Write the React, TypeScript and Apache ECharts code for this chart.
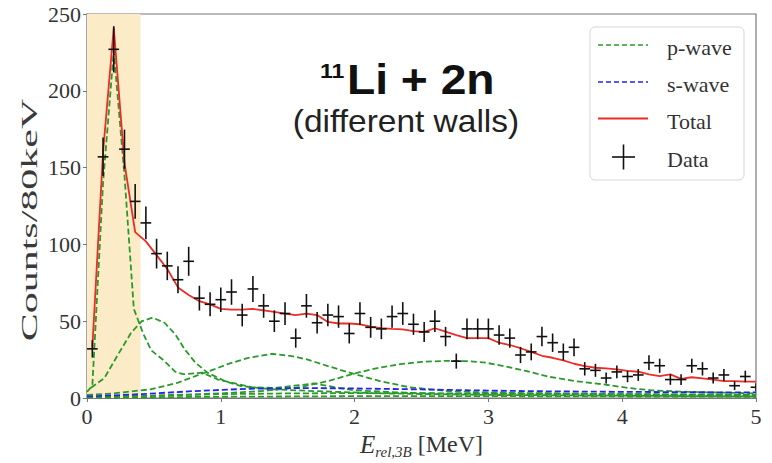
import React, { useEffect, useRef } from "react";
import * as echarts from "echarts";

// ---- data ----
const BIN_WIDTH = 0.08;
const FIRST_BIN = 0.04;
const COUNTS = [32, 157, 227, 162, 128, 114, 94, 86, 77, 89, 65, 61, 64, 69, 54, 71, 60, 50, 55, 39, 60, 49, 54, 53, 42, 55, 46, 45, 53, 55, 48, 43, 50, 40, 24, 45, 45, 45, 41, 39, 28, 30, 40, 36, 30, 33, 19, 18, 13, 17, 14, 15, 23, 21, 12, 12, 21, 19, 13, 15, 8, 14, 7];
const TOTAL = [33, 160, 241, 153, 108, 102, 93, 84, 72, 67, 63, 61, 58, 57.5, 57.5, 58, 57, 56, 55, 54, 55, 54, 49.5, 48.5, 48.5, 48, 46.5, 45.5, 45, 44.7, 43.6, 43, 45.4, 43.2, 41, 39, 39, 39, 36, 34.5, 32.4, 30, 27.5, 26.2, 24.5, 22.3, 20.8, 19.7, 19.3, 18.7, 17.6, 17.1, 15.4, 14.3, 15.4, 12.5, 13.5, 12.8, 12, 11, 11, 10.6, 10.6];

const P_WAVE_PEAK = [[0.0, 4], [0.04, 8], [0.12, 140], [0.2, 226], [0.28, 145], [0.35, 58], [0.42, 42], [0.48, 31], [0.58, 24], [0.66, 17], [0.72, 15.5], [0.86, 16.5], [0.98, 12], [1.08, 10], [1.23, 7], [1.4, 6.5], [1.55, 8], [1.7, 9.5], [1.85, 7], [2.0, 5], [2.5, 3], [3.0, 2.5], [4.0, 2], [5.0, 1.5]];
const P_WAVE_LOW = [[0.03, 6.7], [0.13, 13], [0.23, 28], [0.33, 42.5], [0.41, 50], [0.49, 52.3], [0.58, 49], [0.66, 41.4], [0.73, 31.7], [0.81, 23], [0.9, 16.5], [1.03, 11], [1.15, 7.8], [1.38, 5.7], [1.7, 4.5], [2.2, 3], [3.0, 2], [4.0, 1.5], [5.0, 1]];
const P_WAVE_MID = [[0.0, 2], [0.2, 3], [0.48, 5.7], [0.68, 10], [0.81, 14.3], [0.9, 17], [1.05, 22], [1.2, 26], [1.38, 28.8], [1.53, 27.3], [1.65, 25], [1.8, 20.8], [1.99, 15.8], [2.19, 11], [2.41, 7], [2.7, 4.5], [3.0, 3.5], [4.0, 2.5], [5.0, 2]];
const P_WAVE_HIGH = [[0.0, 0.5], [0.5, 1.5], [1.0, 3], [1.3, 4.5], [1.59, 7], [1.8, 11], [1.99, 15.8], [2.17, 19.5], [2.34, 22], [2.5, 23.5], [2.68, 24.2], [2.85, 24], [2.98, 23], [3.13, 20.5], [3.28, 17.6], [3.46, 13.7], [3.65, 11], [3.85, 9], [4.05, 6.5], [4.22, 5], [4.5, 4], [5.0, 3]];
const P_WAVE_BASE1 = [[0, 0.5], [0.5, 1.5], [1.0, 2.5], [1.5, 3], [2.0, 3.2], [3.0, 3], [4.0, 2.5], [5.0, 2.2]];
const P_WAVE_BASE2 = [[0, 0.2], [1.0, 0.8], [2.0, 1.2], [3.0, 1.2], [4.0, 1], [5.0, 0.8]];
const S_WAVE = [[0, 1], [0.4, 2.5], [0.8, 4.5], [1.2, 6], [1.6, 6.5], [2.0, 6.2], [2.5, 5.6], [3.0, 4.8], [3.5, 4.3], [4.0, 4], [4.5, 3.8], [5.0, 3.6]];

const X_TICKS = { min: 0, max: 5, interval: 1 };
const Y_TICKS = { min: 0, max: 250, interval: 50 };
const BAND = [0, 0.4];
const LEGEND_LABELS = ["p-wave", "s-wave", "Total", "Data"];

const GREEN = "#2a9a2a";
const BLUE = "#2424f0";
const RED = "#ec2c26";
const SERIF = "'Liberation Serif', 'Times New Roman', serif";
const SANS = "'Liberation Sans', Arial, sans-serif";

const dashed = (color: string) => ({ color, width: 1.8, type: [6, 3] as any });

export default function App() {
  const ref = useRef<HTMLDivElement>(null);
  useEffect(() => {
    if (!ref.current) return;
    const chart = echarts.init(ref.current, undefined, { renderer: "svg" });
    const dataPts = COUNTS.map((c, i) => [+(FIRST_BIN + BIN_WIDTH * i).toFixed(2), c]);
    const totalPts = TOTAL.map((t, i) => [+(FIRST_BIN + BIN_WIDTH * i).toFixed(2), t]);
    const curve = (name: string, data: number[][], color: string, z: number, extra: any = {}) => ({
      name,
      type: "line",
      data,
      showSymbol: false,
      symbol: "none",
      lineStyle: dashed(color),
      z,
      silent: true,
      ...extra,
    });
    const legendY = [45, 82, 118.5, 157];
    const lx0 = 598, lx1 = 648, tx = 667;
    chart.setOption({
      animation: false,
      backgroundColor: "#fff",
      grid: {
        left: 87, right: 16, top: 14, bottom: 65,
        outerBoundsMode: "none",
        containLabel: false,
        show: true, borderColor: "#777", borderWidth: 1.2, backgroundColor: "transparent",
      },
      xAxis: {
        type: "value",
        ...X_TICKS,
        axisLine: { show: true, lineStyle: { color: "#777", width: 1.2 } },
        axisTick: { show: true, inside: false, length: 4, lineStyle: { color: "#777" } },
        axisLabel: { fontSize: 22, fontFamily: SERIF, color: "#333", margin: 7 },
        splitLine: { show: false },
        name: "{e|E}{s|rel,3B}{n| [MeV]}",
        nameLocation: "middle",
        nameGap: 31,
        nameTextStyle: {
          rich: {
            e: { fontSize: 25, fontFamily: SERIF, fontStyle: "italic", color: "#333", lineHeight: 30, verticalAlign: "middle" },
            s: { fontSize: 15, fontFamily: SERIF, fontStyle: "italic", color: "#333", lineHeight: 30, verticalAlign: "bottom" },
            n: { fontSize: 24, fontFamily: SERIF, color: "#333", lineHeight: 30, verticalAlign: "middle" },
          },
        },
      },
      yAxis: {
        type: "value",
        ...Y_TICKS,
        axisLine: { show: true, lineStyle: { color: "#777", width: 1.2 } },
        axisTick: { show: true, inside: false, length: 4, lineStyle: { color: "#777" } },
        axisLabel: { fontSize: 22, fontFamily: SERIF, color: "#333", margin: 6 },
        splitLine: { show: false },
      },
      series: [
        curve("p-wave", P_WAVE_BASE2, GREEN, 2, {
          markArea: {
            silent: true,
            itemStyle: { color: "#fcebc7" },
            data: [[{ xAxis: BAND[0] }, { xAxis: BAND[1] }]],
          },
        }),
        curve("p-wave", P_WAVE_BASE1, GREEN, 3),
        curve("s-wave", S_WAVE, BLUE, 4),
        curve("p-wave", P_WAVE_HIGH, GREEN, 3),
        curve("p-wave", P_WAVE_MID, GREEN, 3),
        curve("p-wave", P_WAVE_LOW, GREEN, 3),
        curve("p-wave", P_WAVE_PEAK, GREEN, 3),
        {
          name: "Total",
          type: "line",
          data: totalPts,
          showSymbol: false,
          symbol: "none",
          lineStyle: { color: RED, width: 1.8 },
          z: 5,
          silent: true,
        },
        {
          name: "Data",
          type: "custom",
          data: dataPts,
          clip: true,
          z: 6,
          silent: true,
          encode: { x: 0, y: 1 },
          renderItem: (_params: any, api: any) => {
            const x = api.value(0);
            const y = api.value(1);
            const e = Math.sqrt(y);
            const top = api.coord([x, y + e]);
            const bot = api.coord([x, y - e]);
            const l = api.coord([x - BIN_WIDTH / 2, y]);
            const r = api.coord([x + BIN_WIDTH / 2, y]);
            const st = { stroke: "#111", lineWidth: 1.6 };
            return {
              type: "group",
              children: [
                { type: "line", shape: { x1: top[0], y1: top[1], x2: bot[0], y2: bot[1] }, style: st },
                { type: "line", shape: { x1: l[0], y1: l[1], x2: r[0], y2: r[1] }, style: st },
              ],
            };
          },
        },
      ],
      graphic: [
        // y axis label
        {
          type: "text",
          x: 29,
          y: 220,
          rotation: Math.PI / 2,
          scaleX: 1.75,
          style: { text: "Counts/80keV", fontSize: 24, fontFamily: SERIF, fill: "#3a3a3a", align: "center", verticalAlign: "middle" },
        },
        // title
        {
          type: "text",
          x: 320,
          y: 71,
          scaleX: 1.1,
          style: { text: "11", fontSize: 21, fontWeight: "bold", fontFamily: SANS, fill: "#111", align: "left", verticalAlign: "middle" },
        },
        {
          type: "text",
          x: 347,
          y: 79,
          scaleX: 1.1,
          style: { text: "Li + 2n", fontSize: 42, fontWeight: "bold", fontFamily: SANS, fill: "#111", align: "left", verticalAlign: "middle" },
        },
        {
          type: "text",
          x: 406,
          y: 121,
          scaleX: 1.08,
          style: { text: "(different walls)", fontSize: 31, fontFamily: SANS, fill: "#222", align: "center", verticalAlign: "middle" },
        },
        // legend
        {
          type: "rect",
          shape: { x: 590, y: 27, width: 154, height: 153, r: 5 },
          style: { fill: "rgba(255,255,255,0.9)", stroke: "#d6d6d6", lineWidth: 1 },
          z: 10,
        },
        {
          type: "line",
          shape: { x1: lx0, y1: legendY[0], x2: lx1, y2: legendY[0] },
          style: { stroke: GREEN, lineWidth: 1.6, lineDash: [5, 3] },
          z: 11,
        },
        {
          type: "line",
          shape: { x1: lx0, y1: legendY[1], x2: lx1, y2: legendY[1] },
          style: { stroke: BLUE, lineWidth: 1.6, lineDash: [5, 3] },
          z: 11,
        },
        {
          type: "line",
          shape: { x1: lx0, y1: legendY[2], x2: lx1, y2: legendY[2] },
          style: { stroke: RED, lineWidth: 1.8 },
          z: 11,
        },
        {
          type: "line",
          shape: { x1: 612, y1: legendY[3], x2: 635, y2: legendY[3] },
          style: { stroke: "#111", lineWidth: 1.6 },
          z: 11,
        },
        {
          type: "line",
          shape: { x1: 623.5, y1: legendY[3] - 12.5, x2: 623.5, y2: legendY[3] + 12.5 },
          style: { stroke: "#111", lineWidth: 1.6 },
          z: 11,
        },
        ...LEGEND_LABELS.map((t, i) => ({
          type: "text",
          x: tx,
          y: legendY[i] + 2.5,
          z: 11,
          style: { text: t, fontSize: 22, fontFamily: SERIF, fill: "#333", align: "left", verticalAlign: "middle" },
        })),
      ],
    });
    return () => chart.dispose();
  }, []);
  return <div ref={ref} style={{ position: "absolute", left: 0, top: 0, width: 772, height: 463 }} />;
}
